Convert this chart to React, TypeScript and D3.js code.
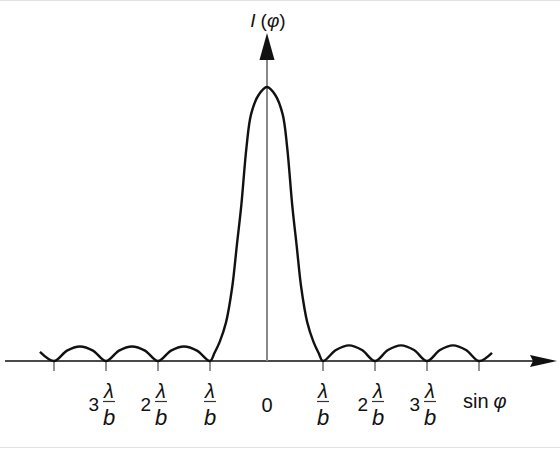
import React from "react";
import * as d3 from "d3";

// sin φ in units of λ/b, and relative intensity I(φ)
const sinPhi = [
  -4.27, -4.0, -3.75, -3.5, -3.25, -3.0, -2.75, -2.5, -2.25, -2.0, -1.75, -1.5, -1.25, -1.0,
  -0.92, -0.83, -0.72, -0.61, -0.53, -0.45, -0.36, -0.28, -0.15, 0,
  0.15, 0.28, 0.36, 0.45, 0.53, 0.61, 0.72, 0.83, 0.92, 1.0,
  1.25, 1.5, 1.75, 2.0, 2.25, 2.5, 2.75, 3.0, 3.25, 3.5, 3.75, 4.0, 4.25,
];
const intensity = [
  0.033, 0, 0.038, 0.053, 0.038, 0, 0.038, 0.053, 0.038, 0, 0.038, 0.053, 0.038, 0,
  0.03, 0.07, 0.14, 0.27, 0.42, 0.57, 0.78, 0.9, 0.97, 1.0,
  0.97, 0.9, 0.78, 0.57, 0.42, 0.27, 0.14, 0.07, 0.03, 0,
  0.04, 0.057, 0.04, 0, 0.04, 0.057, 0.04, 0, 0.04, 0.057, 0.04, 0, 0.03,
];

const tickValues = [-4, -3, -2, -1, 1, 2, 3, 4];
const tickCoefficients = ["", "3", "2", "", "", "2", "3", ""];
const tickHasFraction = [false, true, true, true, true, true, true, false];
const xAxisLabel = "sin";
const angleSymbol = "φ";

const W = 560;
const H = 449;

export default function App() {
  const x = d3.scaleLinear().domain([-4, -1, 0, 1, 4]).range([54, 210, 267, 323, 479]);
  const y = d3.scaleLinear().domain([0, 1]).range([361, 87]);
  const pts = sinPhi.map((s, i) => [s, intensity[i]] as [number, number]);
  const line = d3
    .line<[number, number]>()
    .x((d) => x(d[0]))
    .y((d) => y(d[1]))
    .curve(d3.curveCatmullRom.alpha(0.5));
  const base = y(0);
  const cx = x(0);
  const sans = "'Liberation Sans', 'DejaVu Sans', sans-serif";

  return (
    <svg
      width={W}
      height={H}
      viewBox={`0 0 ${W} ${H}`}
      style={{ position: "absolute", left: 0, top: 0, background: "#fff" }}
    >
      <line x1={0} x2={W} y1={0.5} y2={0.5} stroke="#e2e2e2" strokeWidth={1} />
      <line x1={0} x2={W} y1={447.5} y2={447.5} stroke="#e2e2e2" strokeWidth={1} />

      {/* horizontal axis */}
      <line x1={5} x2={535} y1={base} y2={base} stroke="#4a4a4a" strokeWidth={1.8} />
      <path d={`M557,${base} L530,${base - 6} L533,${base} L530,${base + 6} Z`} fill="#111" />

      {/* vertical axis */}
      <line x1={cx} x2={cx} y1={58} y2={base} stroke="#888" strokeWidth={2} />
      <path d={`M${cx},33 L${cx - 7.5},60 L${cx + 7.5},60 Z`} fill="#111" />

      {/* ticks */}
      {tickValues.map((t) => (
        <line key={t} x1={x(t)} x2={x(t)} y1={base} y2={base + 10} stroke="#777" strokeWidth={1.6} />
      ))}

      {/* curve */}
      <path d={line(pts) || ""} fill="none" stroke="#111" strokeWidth={2.4} strokeLinejoin="round" />

      {/* tick labels */}
      {tickValues.map((t, i) => {
        if (!tickHasFraction[i]) return null;
        const fc = x(t) + (tickCoefficients[i] ? 3 : 0);
        return (
          <g key={"lbl" + t} fontFamily={sans}>
            {tickCoefficients[i] && (
              <text x={fc - 10} y={411} fontSize={19} textAnchor="end" fill="#111">
                {tickCoefficients[i]}
              </text>
            )}
            <text x={fc} y={398} fontSize={20} fontStyle="italic" textAnchor="middle" fill="#111">
              λ
            </text>
            <line x1={fc - 6} x2={fc + 6} y1={401.5} y2={401.5} stroke="#333" strokeWidth={1.2} />
            <text x={fc} y={425} fontSize={22} fontStyle="italic" textAnchor="middle" fill="#111">
              b
            </text>
          </g>
        );
      })}
      <text x={cx} y={412} fontSize={20} textAnchor="middle" fontFamily={sans} fill="#111">
        0
      </text>
      <text x={463} y={408} fontSize={20} fontFamily={sans} fill="#111">
        {xAxisLabel}
        <tspan dx={5} fontStyle="italic">{angleSymbol}</tspan>
      </text>
      <text x={268} y={27} fontSize={19} textAnchor="middle" fontFamily={sans} fill="#111">
        <tspan fontStyle="italic">I</tspan>
        <tspan dx={5}>(</tspan>
        <tspan fontStyle="italic">{angleSymbol}</tspan>
        <tspan>)</tspan>
      </text>
    </svg>
  );
}
